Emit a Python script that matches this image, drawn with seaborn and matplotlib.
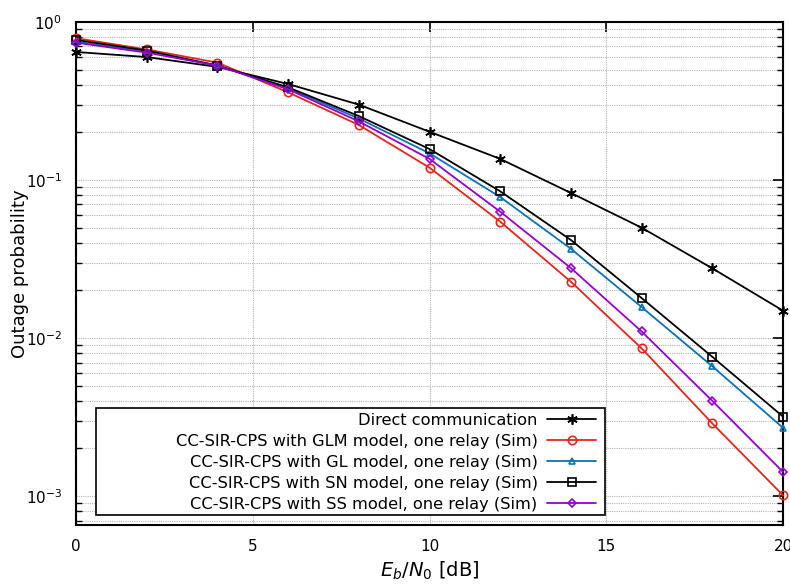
import numpy as np
import pandas as pd
import matplotlib
matplotlib.use("Agg")
import matplotlib.pyplot as plt
import seaborn as sns
from matplotlib.ticker import LogLocator, NullFormatter, MultipleLocator
from matplotlib.patches import Rectangle

ebn0 = [0, 2, 4, 6, 8, 10, 12, 14, 16, 18, 20]

direct = [0.646, 0.60, 0.52, 0.405, 0.30, 0.202, 0.136, 0.0828, 0.0499, 0.0276, 0.0149]
glm = [0.79, 0.67, 0.553, 0.359, 0.223, 0.1197, 0.0545, 0.0227, 0.0086, 0.00288, 0.00101]
gl = [0.75, 0.65, 0.53, 0.38, 0.245, 0.1475, 0.078, 0.0367, 0.0157, 0.00662, 0.0027]
sn = [0.77, 0.66, 0.53, 0.386, 0.254, 0.157, 0.0848, 0.0417, 0.0179, 0.0076, 0.00318]
ss = [0.74, 0.64, 0.53, 0.375, 0.235, 0.136, 0.063, 0.0277, 0.011, 0.0040, 0.00142]

labels = [
    "Direct communication",
    "CC-SIR-CPS with GLM model, one relay (Sim)",
    "CC-SIR-CPS with GL model, one relay (Sim)",
    "CC-SIR-CPS with SN model, one relay (Sim)",
    "CC-SIR-CPS with SS model, one relay (Sim)",
]
series = [direct, glm, gl, sn, ss]
colors = ["#000000", "#e8251b", "#0a72b8", "#000000", "#9400d3"]
markers = [(6, 2, 0), "o", "^", "s", "D"]
msizes = [7.5, 6, 5, 6, 4.5]

sns.set_style("white")
plt.rcParams["font.family"] = ["DejaVu Sans"]
plt.rcParams["axes.unicode_minus"] = False
plt.rcParams["text.color"] = "black"
plt.rcParams["axes.labelcolor"] = "black"
plt.rcParams["xtick.color"] = "black"
plt.rcParams["ytick.color"] = "black"

fig = plt.figure(figsize=(7.9, 5.88), dpi=100)
ax = fig.add_axes([0.0962, 0.107, 0.895, 0.8556])

for lab, vals, c, m, ms in zip(labels, series, colors, markers, msizes):
    df = pd.DataFrame({"x": ebn0, "y": vals})
    sns.lineplot(data=df, x="x", y="y", ax=ax, color=c, marker=m,
                 markersize=ms, markerfacecolor="none" if m != (6, 2, 0) else c,
                 markeredgecolor=c, markeredgewidth=1.2, linewidth=1.3,
                 label=lab, clip_on=False, zorder=3)

ax.set_yscale("log")
ax.set_xlim(0, 20)
ax.set_ylim(6.55e-4, 1.0)
ax.xaxis.set_major_locator(MultipleLocator(5))
ax.yaxis.set_major_locator(LogLocator(base=10, numticks=10))
ax.yaxis.set_minor_locator(LogLocator(base=10, subs=np.arange(2, 10), numticks=20))
ax.yaxis.set_minor_formatter(NullFormatter())

gkw = dict(color="#b4b4b4", linestyle=(0, (1, 1)), linewidth=0.8)
ax.grid(True, which="major", axis="both", **gkw)
ax.grid(True, which="minor", axis="y", **gkw)
ax.set_axisbelow(True)

ax.tick_params(axis="both", which="major", direction="in", length=7, width=1.2,
               top=True, right=True, labelsize=11, pad=10, colors="black")
ax.tick_params(axis="y", which="minor", direction="in", length=4, width=1.0,
               left=True, right=True, colors="black")
for s in ax.spines.values():
    s.set_linewidth(1.5)
    s.set_color("black")

ax.set_xlabel(r"$E_b/N_0$ [dB]", fontsize=14, labelpad=4, color="black")
ax.set_ylabel("Outage probability", fontsize=13, color="black")
ax.yaxis.set_label_coords(-0.066, 0.5)

# legend frame
rx0, rx1 = (96 - 76) / 707, (605 - 76) / 707
ry0, ry1 = (525 - 515) / 503, (525 - 408) / 503
ax.add_patch(Rectangle((rx0, ry0), rx1 - rx0, ry1 - ry0, transform=ax.transAxes,
                       facecolor="white", edgecolor="black", linewidth=1.2, zorder=4))

leg = ax.legend(loc="upper right", bbox_to_anchor=((596 - 76) / 707, (525 - 413) / 503),
                markerfirst=False, fontsize=11.7, frameon=False,
                borderpad=0, labelspacing=0.37, handlelength=3.0,
                handletextpad=0.6, borderaxespad=0, labelcolor="black")
leg.set_zorder(5)
for t in leg.get_texts():
    t.set_ha("right")
leg._legend_box.align = "right"

fig.savefig("out.png", dpi=100)
